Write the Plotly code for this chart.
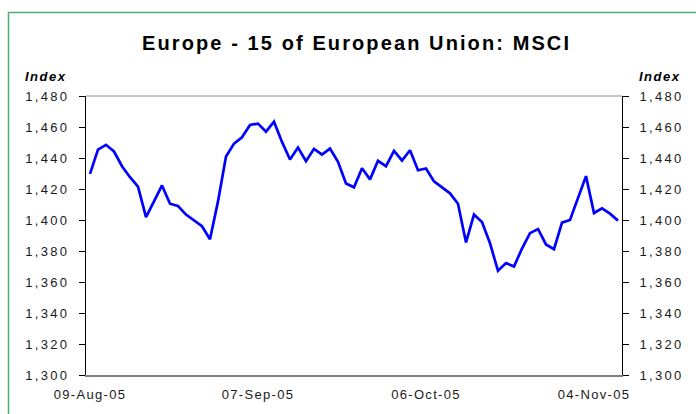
import plotly.graph_objects as go
import pandas as pd

# Trading-day categories (weekdays from 09-Aug-05)
dates = [d.strftime("%d-%b-%y") for d in pd.bdate_range("2005-08-09", periods=67)]

msci_values = [
    1429.8, 1445.4, 1448.5, 1444.2, 1434.7, 1427.6, 1421.5, 1401.9, 1412.0, 1422.3,
    1410.5, 1409.0, 1403.5, 1399.8, 1396.0, 1387.6, 1412.0, 1441.0, 1449.3, 1453.4,
    1461.3, 1462.2, 1457.0, 1463.4, 1450.4, 1439.0, 1446.7, 1437.9, 1445.9, 1442.2,
    1446.1, 1437.5, 1423.6, 1421.1, 1433.4, 1426.2, 1438.2, 1434.7, 1444.6, 1438.4,
    1445.0, 1432.1, 1433.2, 1424.9, 1420.8, 1417.2, 1410.5, 1385.5, 1403.5, 1398.7,
    1385.0, 1367.2, 1372.2, 1370.0, 1381.6, 1391.5, 1394.2, 1384.2, 1381.2, 1398.3,
    1400.0, 1414.0, 1428.3, 1404.5, 1407.5, 1404.1, 1399.6,
]

x_tick_labels = ["09-Aug-05", "07-Sep-05", "06-Oct-05", "04-Nov-05"]
y_tick_values = [1300, 1320, 1340, 1360, 1380, 1400, 1420, 1440, 1460, 1480]
y_tick_labels = [f"{v:,}" for v in y_tick_values]

title_text = "Europe - 15 of European Union: MSCI"
axis_title = "Index"

FONT = "Liberation Sans, Arial, sans-serif"
TXT = "#1a1a1a"

def sp(t, ls="1.3px"):
    return f'<span style="letter-spacing:{ls}">{t}</span>'

W, H = 696, 414
L, R, T, B = 86, 74, 96, 37
pw, ph = W - L - R, H - T - B

def px(xp):
    return (xp - L) / pw

def py(yp):
    return (H - B - yp) / ph

fig = go.Figure()
fig.add_trace(go.Scatter(
    x=dates, y=msci_values, mode="lines",
    line=dict(color="#0000FF", width=2.7),
    hoverinfo="skip", showlegend=False,
))
fig.add_trace(go.Scatter(
    x=dates, y=msci_values, mode="lines", yaxis="y2",
    line=dict(color="rgba(0,0,0,0)", width=0),
    hoverinfo="skip", showlegend=False,
))

yaxis_common = dict(
    range=[1300, 1480], tickvals=y_tick_values,
    ticktext=[sp(t, "2.3px") for t in y_tick_labels],
    ticks="outside", ticklen=6, tickcolor="#000", tickwidth=1,
    showgrid=False, zeroline=False, showline=True, linecolor="#000", linewidth=1,
    tickfont=dict(family=FONT, size=13, color=TXT),
    fixedrange=True,
)

fig.update_layout(
    width=W, height=H,
    margin=dict(l=L, r=R, t=T, b=B, pad=0),
    paper_bgcolor="white", plot_bgcolor="white",
    xaxis=dict(
        type="category", range=[-0.5, 66.5],
        tickvals=x_tick_labels, ticktext=[sp(t) for t in x_tick_labels],
        ticks="", showgrid=False, zeroline=False,
        showline=True, linecolor="#7f7f7f", linewidth=2,
        tickfont=dict(family=FONT, size=13, color=TXT),
        ticklabelstandoff=6, fixedrange=True,
    ),
    yaxis=dict(side="left", ticklabelstandoff=7, **yaxis_common),
    yaxis2=dict(side="right", overlaying="y", ticklabelstandoff=8, **yaxis_common),
    shapes=[
        # top border of plot area
        dict(type="line", xref="paper", yref="paper", x0=0, x1=1, y0=1, y1=1,
             line=dict(color="#8c8c8c", width=1)),
        # outer green frame
        dict(type="rect", xref="paper", yref="paper",
             x0=px(8.5), x1=px(720), y0=py(12), y1=py(440),
             line=dict(color="#4caf7a", width=1.5), fillcolor="rgba(0,0,0,0)"),
    ],
    annotations=[
        dict(text=sp(f"<b>{title_text}</b>", "2.1px"), xref="paper", yref="paper",
             x=px(356), y=py(43), xanchor="center", yanchor="middle", showarrow=False,
             font=dict(family=FONT, size=20, color="#000")),
        dict(text=sp(f"<b><i>{axis_title}</i></b>", "1.5px"), xref="paper", yref="paper",
             x=px(45), y=py(76), xanchor="center", yanchor="middle", showarrow=False,
             font=dict(family=FONT, size=13, color="#000")),
        dict(text=sp(f"<b><i>{axis_title}</i></b>", "1.5px"), xref="paper", yref="paper",
             x=px(659), y=py(76), xanchor="center", yanchor="middle", showarrow=False,
             font=dict(family=FONT, size=13, color="#000")),
    ],
)

fig.write_html(
    "out.html",
    config={"displayModeBar": False},
    post_script="document.body.style.margin='0';document.body.style.padding='0';",
)
